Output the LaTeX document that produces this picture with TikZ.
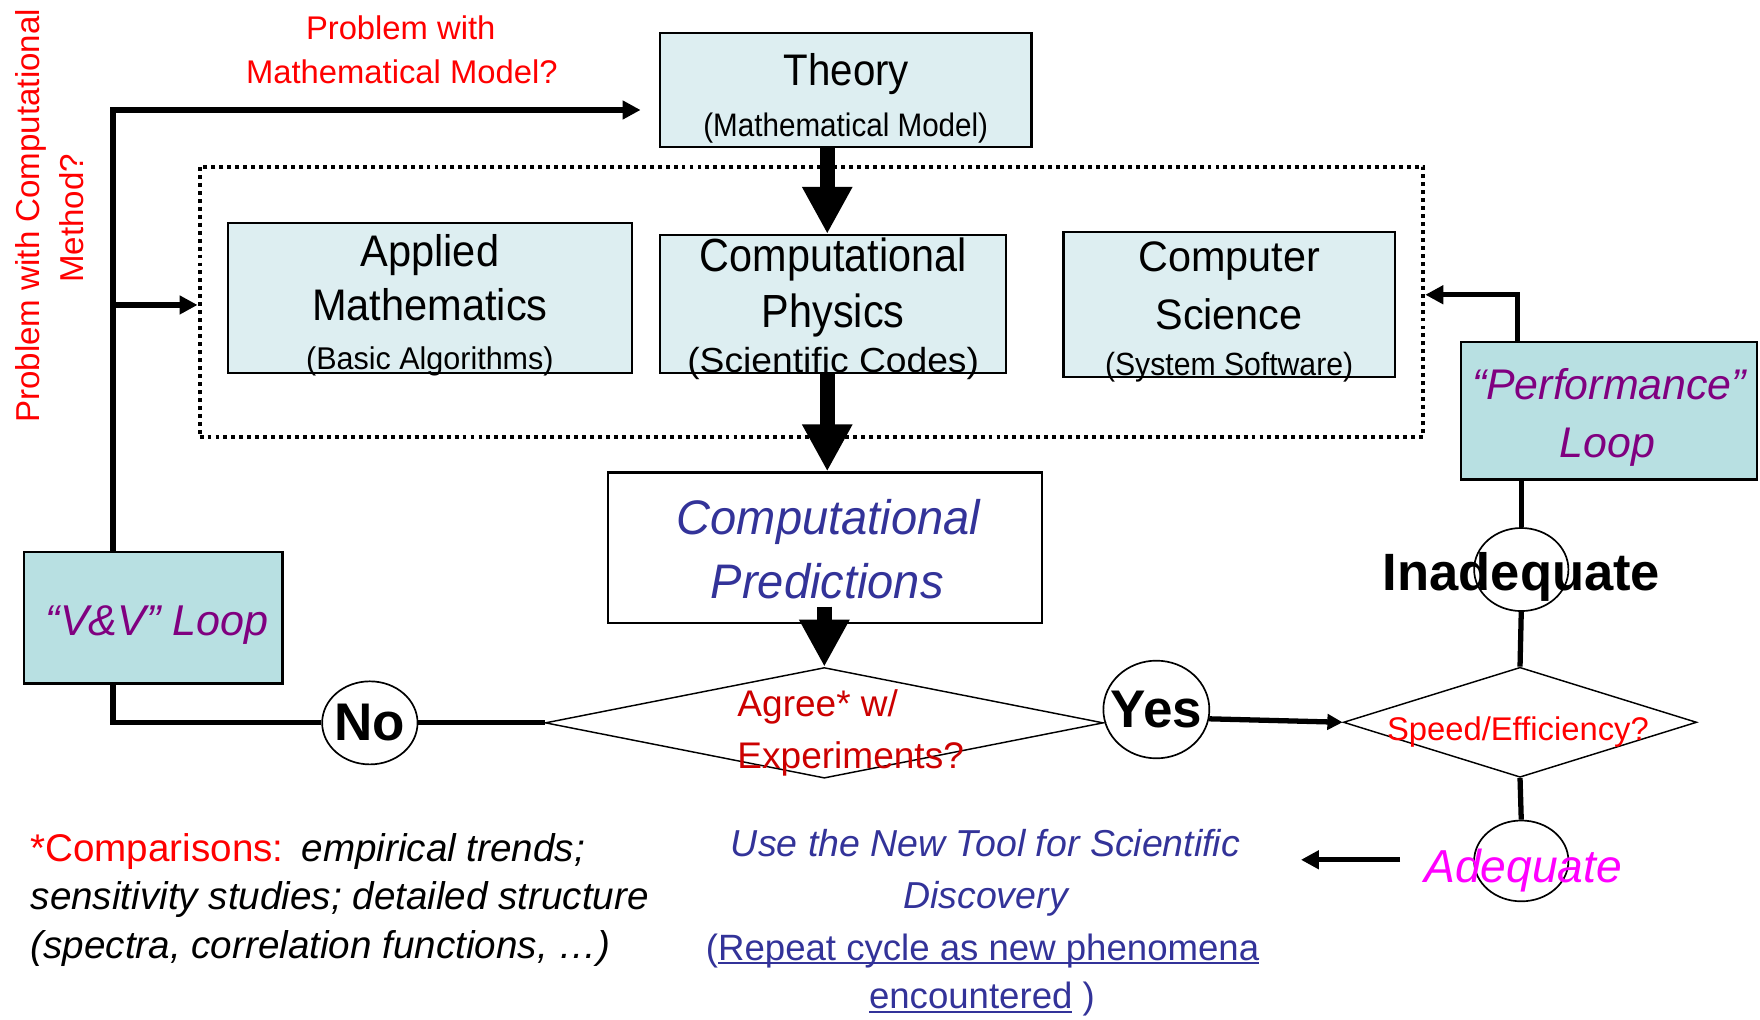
\documentclass[tikz,border=0pt]{standalone}
\usepackage{fontspec}
\setmainfont{Liberation Sans}
\usepackage{graphicx}
\usetikzlibrary{shapes.geometric,arrows.meta,fit}
\definecolor{boxfill}{RGB}{221,238,241}
\definecolor{loopfill}{RGB}{184,224,226}
\definecolor{loopviolet}{RGB}{128,0,128}
\definecolor{navyblue}{RGB}{51,51,153}
\definecolor{agreered}{RGB}{204,0,0}
\definecolor{adeqmag}{RGB}{255,0,255}
\newcommand\setfs[1]{\fontsize{#1pt}{#1pt}\selectfont}
\newcommand\sxt[2]{\scalebox{#1}[1]{#2}}
\newcommand\myuline[1]{\setbox0=\hbox{#1}\rlap{\rule[-0.12em]{\wd0}{0.055em}}\box0\relax}
\tikzset{
  box/.style={draw, line width=1pt, fill=boxfill, inner sep=0pt},
  loopbox/.style={draw, line width=1pt, fill=loopfill, inner sep=0pt},
  predbox/.style={draw, line width=1pt, fill=white, inner sep=0pt},
  dotbox/.style={draw, line width=1.8pt, dash pattern=on 1.75pt off 1.8pt, inner sep=0pt},
  oval/.style={ellipse, draw, line width=0.75pt, inner sep=0pt},
  decision/.style={diamond, draw, line width=0.65pt, inner sep=0pt},
  txt/.style={inner sep=0pt, anchor=base},
  conn/.style={line width=2.35pt},
  arr/.style={conn, -{Triangle[length=8pt,width=8pt]}},
  bigarr/.style={line width=6.7pt, -{Triangle[length=21pt,width=21pt]}},
}
\begin{document}
\begin{tikzpicture}[x=0.5pt,y=-0.5pt]
\fill[white] (0,0) rectangle (1568,908);
\useasboundingbox (0,0) rectangle (1568,908);

% boxes
\node[dotbox, fit={(177.8,148.5) (1268,389)}] (dotted) {};
\node[box, fit={(588,29.7) (919,130.7)}] (theory) {};
\node[box, fit={(203.4,199) (562.8,332.6)}] (applied) {};
\node[box, fit={(588.2,209.4) (896.5,332)}] (cphys) {};
\node[box, fit={(947.4,206.5) (1243,336)}] (csci) {};
\node[predbox, fit={(542,421) (928,554.8)}] (pred) {};
\node[loopbox, fit={(21.6,491.5) (251.7,609)}] (vv) {};
\node[loopbox, fit={(1301.7,304.8) (1565,427.2)}] (perf) {};

% decisions and ovals
\node[decision, minimum width=248.6pt, minimum height=49.3pt] (agree) at (734.4,644) {};
\node[decision, minimum width=157.4pt, minimum height=49pt] (speed) at (1354.2,643.5) {};
\node[oval, minimum width=42.5pt, minimum height=37pt] (no) at (329.5,644) {};
\node[oval, minimum width=47.2pt, minimum height=43.5pt] (yes) at (1030.2,632.1) {};
\node[oval, minimum width=42pt, minimum height=37pt] (inad) at (1355.3,507.4) {};
\node[oval, minimum width=42pt, minimum height=36pt] (adeq) at (1355.3,767) {};

% coordinates
\coordinate (lx) at (100.6,98);
\coordinate (midy) at (100.6,271.7);
\coordinate (topend) at (570.7,98);
\coordinate (px) at (1352,262.6);
\coordinate (ax) at (737,0);
\coordinate (pstart) at (734.4,540.5);
\coordinate (aa) at (1247.3,766);
\coordinate (ab) at (1159,766);

% connectors
\draw[conn] (vv.south -| lx) |- (no.west);
\draw[conn] (no.east) -- (agree.west);
\draw[arr] (vv.north -| lx) |- (topend);
\draw[arr] (midy) -- (dotted.west |- midy);
\draw[arr] (perf.north -| px) |- (dotted.east |- px);
\draw[conn] (perf.south -| inad) -- (inad.north);
\draw[conn] (inad.south) -- (speed.north);
\draw[conn] (speed.south) -- (adeq.north);
\draw[conn, -{Triangle[length=6.8pt,width=6.8pt]}] (yes.-10) -- (speed.west);
\draw[arr] (aa) -- (ab);
\draw[bigarr] (theory.south -| ax) -- (cphys.north -| ax);
\draw[bigarr] (cphys.south -| ax) -- (pred.north -| ax);
\draw[bigarr] (pstart) -- (agree.north);

% texts in boxes
\node[txt, font=\setfs{19.7}] (theoryT) at (754,76.5) {\sxt{0.91}{Theory}};
\node[txt, font=\setfs{14.5}] (theoryS) at (753.5,121.5) {\sxt{0.91}{(Mathematical Model)}};
\node[txt, font=\setfs{19.7}] (applied1) at (383,237.6) {\sxt{0.94}{Applied}};
\node[txt, font=\setfs{19.7}] (applied2) at (383,285.1) {\sxt{0.94}{Mathematics}};
\node[txt, font=\setfs{14}] (applied3) at (383,329.5) {\sxt{0.97}{(Basic Algorithms)}};
\node[txt, font=\setfs{20.7}] (cphys1) at (742.3,242) {\sxt{0.89}{Computational}};
\node[txt, font=\setfs{20.7}] (cphys2) at (742.3,291.5) {\sxt{0.89}{Physics}};
\node[txt, font=\setfs{15.5}] (cphys3) at (742.3,332) {\sxt{1.07}{(Scientific Codes)}};
\node[txt, font=\setfs{19}] (csci1) at (1095,242.3) {\sxt{0.97}{Computer}};
\node[txt, font=\setfs{19}] (csci2) at (1095,294) {\sxt{0.97}{Science}};
\node[txt, font=\setfs{14.3}] (csci3) at (1095,334.5) {\sxt{0.94}{(System Software)}};
\node[txt, font=\setfs{21.6}\itshape, text=navyblue] (pred1) at (738,476.6) {\sxt{0.97}{Computational}};
\node[txt, font=\setfs{21.6}\itshape, text=navyblue] (pred2) at (737,533) {\sxt{0.97}{Predictions}};
\node[txt, font=\setfs{19.2}\itshape, text=loopviolet] (vvT) at (140,566.6) {“V\&V” Loop};
\node[txt, font=\setfs{19.1}\itshape, text=loopviolet] (perf1) at (1433.5,355.8) {“Performance”};
\node[txt, font=\setfs{19.1}\itshape, text=loopviolet] (perf2) at (1432,407.6) {Loop};

% decision texts
\node[txt, anchor=base west, font=\setfs{16.5}, text=agreered] (agree1) at (656.6,638.5) {Agree* w/};
\node[txt, anchor=base west, font=\setfs{16.5}, text=agreered] (agree2) at (656.6,684.5) {Experiments?};
\node[txt, font=\setfs{14.6}, text=red] (speedT) at (1352.3,659.3) {Speed/Efficiency?};
\node[inner sep=0pt, font=\setfs{23.6}\bfseries] (noT) at (no) {No};
\node[inner sep=0pt, font=\setfs{23.6}\bfseries] (yesT) at (yes) {Yes};
\node[txt, font=\setfs{23.4}\bfseries] (inadT) at (1355.5,525.9) {Inadequate};
\node[txt, font=\setfs{20.6}\itshape, text=adeqmag] (adeqT) at (1357,786.5) {Adequate};

% red questions
\node[txt, font=\setfs{14.6}, text=red] (pm1) at (357,35) {Problem with};
\node[txt, font=\setfs{14.6}, text=red] (pm2) at (358,74.2) {Mathematical Model?};
\node[txt, rotate=90, font=\setfs{14.75}, text=red] (pc1) at (35,192.3) {Problem with Computational};
\node[txt, rotate=90, font=\setfs{14.75}, text=red] (pc2) at (74.8,194.5) {Method?};

% comparisons
\node[txt, anchor=base west, font=\setfs{17.2}] (cmp1) at (26.7,767.7) {\textcolor{red}{*Comparisons:}\hspace{8pt}\itshape empirical trends;};
\node[txt, anchor=base west, font=\setfs{17.2}\itshape] (cmp2) at (27,810.7) {sensitivity studies; detailed structure};
\node[txt, anchor=base west, font=\setfs{17.2}\itshape] (cmp3) at (27,853.8) {(spectra, correlation functions, …)};

% blue discovery text
\node[txt, font=\setfs{16.7}\itshape, text=navyblue] (use1) at (878,763.2) {Use the New Tool for Scientific};
\node[txt, font=\setfs{16.7}\itshape, text=navyblue] (use2) at (878,809) {Discovery};
\node[txt, font=\setfs{16.3}, text=navyblue] (use3) at (875.4,855.3) {(\myuline{Repeat cycle as new phenomena}};
\node[txt, font=\setfs{16.3}, text=navyblue] (use4) at (874.8,898.4) {\myuline{encountered} )};
\end{tikzpicture}
\end{document}
